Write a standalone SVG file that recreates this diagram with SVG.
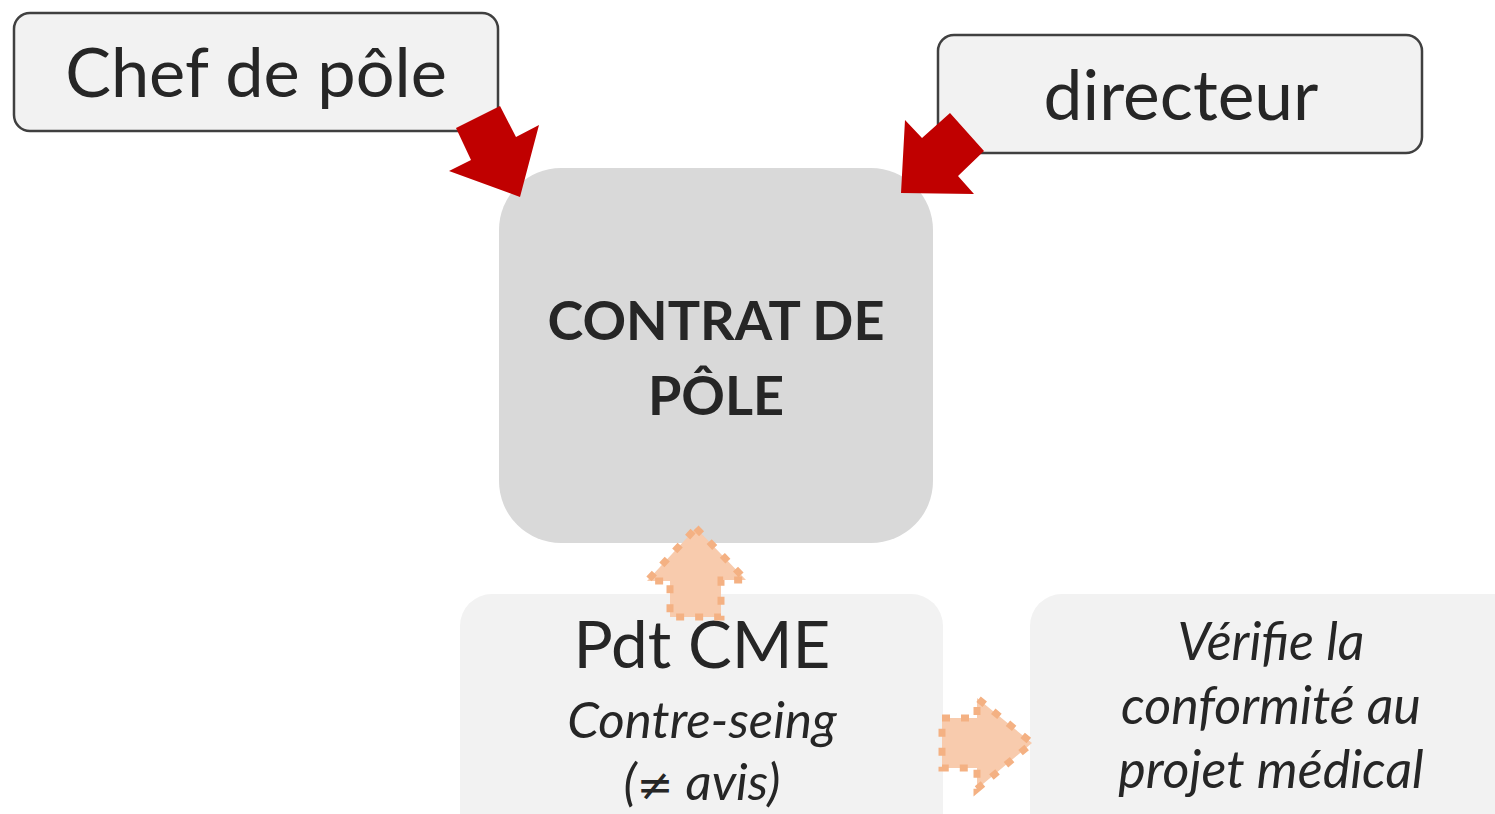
<svg xmlns="http://www.w3.org/2000/svg" width="1495" height="814" viewBox="0 0 1495 814">
<style>
.top{fill:#f2f2f2;stroke:#404040;stroke-width:2.5}
.soft{fill:#f2f2f2}
.t{font-family:Lato,"Open Sans",sans-serif;fill:#262626;text-anchor:middle}
.red{fill:#c00000}
.org{fill:#f8cbad;stroke:#f4b183;stroke-width:7;stroke-dasharray:8 11}
</style>
<rect width="1495" height="814" fill="#ffffff"/>
<g id="chef">
<rect class="top" x="14" y="13" width="484" height="118" rx="16"/>
<text class="t" x="256" y="97" font-size="68.5">Chef de pôle</text>
</g>
<g id="directeur">
<rect class="top" x="938" y="35" width="484" height="118" rx="16"/>
<text class="t" x="1181" y="120" font-size="69.5">directeur</text>
</g>
<g id="contrat">
<rect x="499" y="168" width="434" height="375" rx="62" fill="#d9d9d9"/>
<text class="t" x="716" y="340" font-size="54" font-weight="bold">CONTRAT DE</text>
<text class="t" x="716" y="415" font-size="54" font-weight="bold">PÔLE</text>
</g>
<g id="pdt">
<rect class="soft" x="460" y="594" width="483" height="250" rx="32"/>
<text class="t" x="702" y="668" font-size="65.5">Pdt CME</text>
<text class="t" x="702" y="738" font-size="51" font-style="italic">Contre-seing</text>
<text class="t" x="702" y="800" font-size="51" font-style="italic">(<tspan font-family="DejaVu Sans" font-size="44">≠</tspan> avis)</text>
</g>
<g id="verifie">
<rect class="soft" x="1030" y="594" width="500" height="250" rx="32"/>
<text class="t" x="1271" y="660" font-size="52" font-style="italic">Vérifie la</text>
<text class="t" x="1271" y="724" font-size="52" font-style="italic">conformité au</text>
<text class="t" x="1271" y="788" font-size="52" font-style="italic">projet médical</text>
</g>
<g id="connectors">
<polygon class="red" points="456,128 500,106 516,137 539,125 520,197 449,171 471,160"/>
<polygon class="red" points="950,113 984,151 958,176 974,194 901,193 905,120 922,138"/>
<polygon class="org" points="696,528 746,580 721,580 721,617 670,617 670,581 647,581"/>
<polygon class="org" points="942,718 977,718 977,698 1032,743 977,789 977,768 942,768"/>
</g>
</svg>
